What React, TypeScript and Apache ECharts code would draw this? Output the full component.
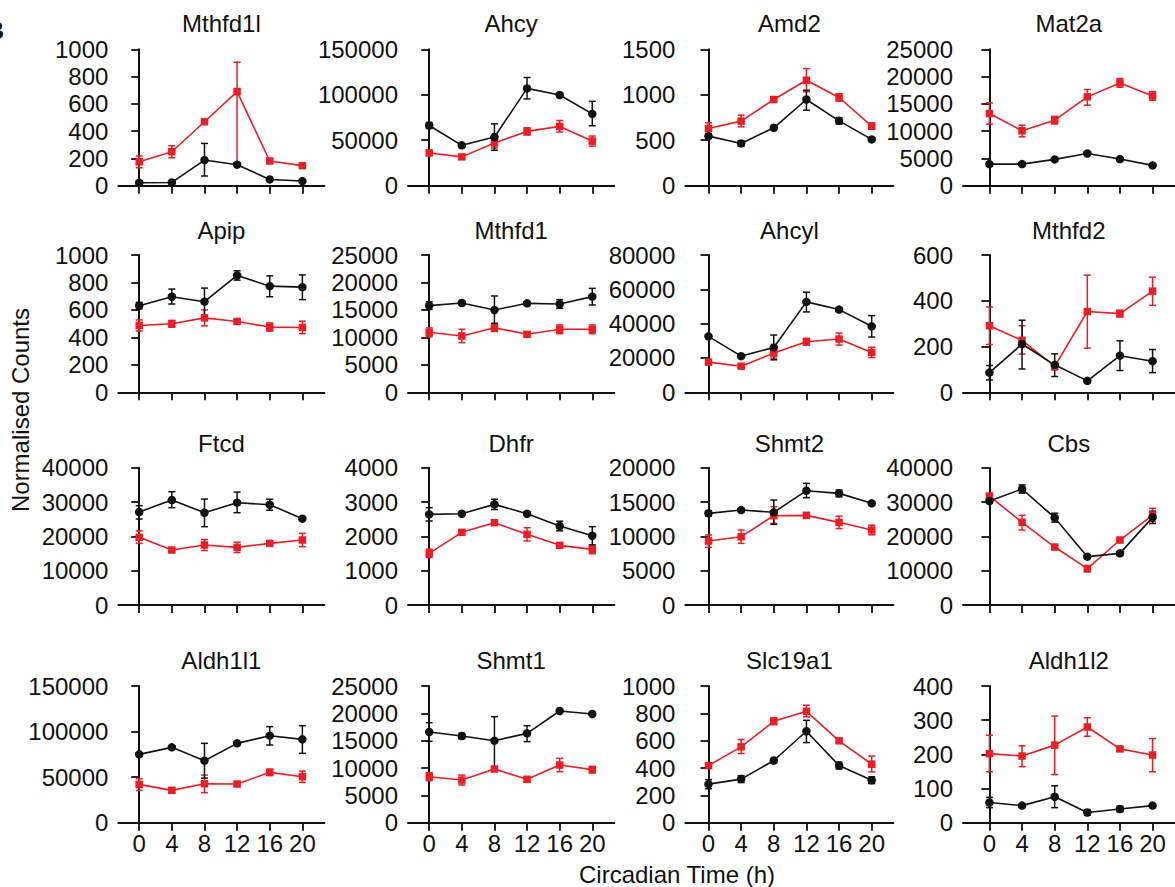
import React, { useEffect, useRef } from "react";
import * as echarts from "echarts";

// ---------------- data ----------------
const HOURS = [0, 4, 8, 12, 16, 20];
const X_TICKS = [0, 4, 8, 12, 16, 20];

const GENES = [
  "Mthfd1l", "Ahcy", "Amd2", "Mat2a",
  "Apip", "Mthfd1", "Ahcyl", "Mthfd2",
  "Ftcd", "Dhfr", "Shmt2", "Cbs",
  "Aldh1l1", "Shmt1", "Slc19a1", "Aldh1l2",
];
const Y_MAX = [1000, 150000, 1500, 25000, 1000, 25000, 80000, 600, 40000, 4000, 20000, 40000, 150000, 25000, 1000, 400];
const Y_STEP = [200, 50000, 500, 5000, 200, 5000, 20000, 200, 10000, 1000, 5000, 10000, 50000, 5000, 200, 100];

// each point: [mean, errLow, errHigh]
const MTHFD1L_BLACK = [[22, 14, 30], [24, 16, 32], [188, 71, 310], [154, 146, 162], [46, 40, 52], [34, 30, 38]];
const MTHFD1L_RED = [[176, 132, 218], [249, 205, 293], [469, 459, 479], [690, 169, 905], [181, 169, 193], [147, 140, 154]];
const AHCY_BLACK = [[66260, 63000, 69500], [44400, 43000, 45800], [53500, 39000, 68000], [107000, 95400, 119000], [99750, 98000, 101500], [79000, 65900, 92800]];
const AHCY_RED = [[36000, 33500, 38500], [31700, 29200, 34200], [47000, 41500, 52400], [59700, 55700, 63700], [65200, 59000, 71700], [49100, 43600, 54600]];
const AMD2_BLACK = [[545, 520, 570], [465, 435, 495], [637, 627, 647], [948, 830, 1050], [713, 678, 748], [509, 494, 524]];
const AMD2_RED = [[629, 574, 692], [710, 648, 776], [948, 928, 968], [1160, 1032, 1288], [970, 930, 1010], [655, 620, 690]];
const MAT2A_BLACK = [[3960, 3660, 4260], [3960, 3800, 4120], [4820, 4650, 4990], [5910, 5750, 6070], [4880, 4720, 5040], [3720, 3560, 3880]];
const MAT2A_RED = [[13230, 11280, 15180], [10060, 8960, 11100], [12010, 11310, 12710], [16280, 14760, 17620], [18840, 18040, 19640], [16460, 15660, 17260]];
const APIP_BLACK = [[631, 607, 655], [696, 643, 752], [660, 559, 759], [851, 817, 885], [773, 696, 848], [766, 675, 855]];
const APIP_RED = [[487, 447, 527], [499, 474, 524], [542, 484, 600], [516, 501, 531], [475, 445, 505], [472, 427, 518]];
const MTHFD1_BLACK = [[15780, 15080, 16480], [16260, 15960, 16560], [14990, 12560, 17540], [16200, 15900, 16500], [16080, 15280, 16880], [17420, 15900, 18930]];
const MTHFD1_RED = [[10920, 10120, 11720], [10250, 9040, 11470], [11770, 11070, 12470], [10560, 10160, 10960], [11470, 10670, 12270], [11470, 10670, 12270]];
const AHCYL_BLACK = [[32590, 31590, 33590], [21070, 20470, 21670], [26150, 18930, 33370], [52680, 46830, 58340], [48190, 47390, 48990], [38440, 32200, 44680]];
const AHCYL_RED = [[17560, 16960, 18160], [15220, 14620, 15820], [22830, 19900, 25760], [29460, 27460, 31460], [31020, 27510, 34540], [23220, 20220, 26220]];
const MTHFD2_BLACK = [[86, 54, 117], [211, 102, 315], [120, 69, 168], [50, 44, 56], [160, 95, 225], [136, 86, 187]];
const MTHFD2_RED = [[291, 209, 373], [227, 167, 291], [113, 98, 128], [353, 193, 512], [344, 329, 359], [442, 380, 503]];
const FTCD_BLACK = [[27090, 25050, 28930], [30580, 28350, 33010], [26890, 22820, 30870], [29810, 26890, 32910], [29220, 27620, 30820], [25150, 24750, 25550]];
const FTCD_RED = [[19710, 17960, 21550], [16020, 15520, 16520], [17480, 15880, 19080], [16800, 15300, 18300], [17960, 17360, 18560], [18930, 16990, 20870]];
const DHFR_BLACK = [[2641, 2447, 2835], [2660, 2610, 2710], [2932, 2782, 3082], [2660, 2610, 2710], [2301, 2161, 2441], [2019, 1748, 2282]];
const DHFR_RED = [[1505, 1385, 1625], [2117, 2057, 2177], [2398, 2338, 2458], [2058, 1864, 2252], [1738, 1678, 1798], [1621, 1491, 1751]];
const SHMT2_BLACK = [[13350, 12950, 13750], [13830, 13630, 14030], [13500, 11750, 15290], [16650, 15630, 17720], [16260, 15760, 16760], [14810, 14610, 15010]];
const SHMT2_RED = [[9320, 8400, 10190], [9950, 8980, 10920], [13010, 11890, 14320], [13060, 12660, 13460], [12040, 11140, 12940], [10920, 10220, 11620]];
const CBS_BLACK = [[30290, 29790, 30790], [33790, 32590, 34990], [25440, 24140, 26740], [14080, 13680, 14480], [15050, 14650, 15450], [25530, 23730, 27330]];
const CBS_RED = [[31750, 31250, 32250], [24080, 21840, 26120], [16890, 16390, 17390], [10580, 9680, 11480], [18930, 18530, 19330], [26210, 24270, 28160]];
const ALDH1L1_BLACK = [[75000, 73500, 76500], [82680, 81200, 84200], [68050, 49000, 87070], [87070, 85600, 88600], [95490, 85240, 105370], [91460, 76100, 106460]];
const ALDH1L1_RED = [[42070, 35490, 48290], [35490, 32490, 38490], [42800, 32930, 52300], [42440, 40440, 44440], [55240, 51740, 58740], [50490, 44270, 56700]];
const SHMT1_BLACK = [[16590, 14880, 18290], [15850, 15350, 16350], [15000, 10240, 19390], [16340, 14820, 17740], [20430, 20230, 20630], [19880, 19680, 20080]];
const SHMT1_RED = [[8410, 7700, 9120], [7800, 6900, 8700], [9820, 9520, 10120], [7930, 7430, 8430], [10550, 9330, 11770], [9700, 9100, 10300]];
const SLC19A1_BLACK = [[282, 249, 315], [319, 294, 344], [455, 445, 465], [669, 586, 749], [418, 393, 443], [311, 286, 336]];
const SLC19A1_RED = [[418, 398, 438], [555, 506, 608], [742, 717, 767], [815, 774, 859], [599, 584, 614], [428, 372, 487]];
const ALDH1L2_BLACK = [[59, 44, 74], [50, 45, 55], [76, 44, 108], [30, 22, 38], [40, 32, 48], [50, 46, 54]];
const ALDH1L2_RED = [[202, 149, 256], [195, 164, 225], [227, 141, 312], [280, 253, 307], [216, 211, 221], [198, 149, 246]];

const BLACK_SERIES = [
  MTHFD1L_BLACK, AHCY_BLACK, AMD2_BLACK, MAT2A_BLACK,
  APIP_BLACK, MTHFD1_BLACK, AHCYL_BLACK, MTHFD2_BLACK,
  FTCD_BLACK, DHFR_BLACK, SHMT2_BLACK, CBS_BLACK,
  ALDH1L1_BLACK, SHMT1_BLACK, SLC19A1_BLACK, ALDH1L2_BLACK,
];
const RED_SERIES = [
  MTHFD1L_RED, AHCY_RED, AMD2_RED, MAT2A_RED,
  APIP_RED, MTHFD1_RED, AHCYL_RED, MTHFD2_RED,
  FTCD_RED, DHFR_RED, SHMT2_RED, CBS_RED,
  ALDH1L1_RED, SHMT1_RED, SLC19A1_RED, ALDH1L2_RED,
];

// ---------------- layout ----------------
const COL_LEFT = [118.4, 408, 685.4, 963];
const COL_WIDTH = [206, 206.3, 208, 211.6];
const COL_XMIN = [-2.55, -2.6, -2.83, -3.24];
const COL_XMAX = [22.7, 22.7, 22.66, 22.7];
const ROW_TOP = [49.3, 255, 467.7, 686];
const ROW_BOTTOM = [185.7, 392.3, 605, 822.7];
const TITLE_Y = [23, 230.7, 443, 660];

const FONT = "'Liberation Sans', Arial, Helvetica, sans-serif";
const INK = "#111111";
const RED = "#ee1c24";

function errRenderer(color: string) {
  return (_params: any, api: any) => {
    const x = api.value(0);
    const top = api.coord([x, api.value(2)]);
    const bot = api.coord([x, api.value(1)]);
    const w = 3.5;
    const style = { stroke: color, lineWidth: 1.5 };
    return {
      type: "group",
      children: [
        { type: "line", shape: { x1: top[0], y1: top[1], x2: bot[0], y2: bot[1] }, style },
        { type: "line", shape: { x1: top[0] - w, y1: top[1], x2: top[0] + w, y2: top[1] }, style },
        { type: "line", shape: { x1: bot[0] - w, y1: bot[1], x2: bot[0] + w, y2: bot[1] }, style },
      ],
    };
  };
}

function buildOption() {
  const grid: any[] = [];
  const xAxis: any[] = [];
  const yAxis: any[] = [];
  const series: any[] = [];
  const graphic: any[] = [];

  GENES.forEach((gene, i) => {
    const r = Math.floor(i / 4);
    const c = i % 4;
    const top = ROW_TOP[r];
    const height = ROW_BOTTOM[r] - ROW_TOP[r];
    grid.push({ left: COL_LEFT[c], top, width: COL_WIDTH[c], height, containLabel: false });
    xAxis.push({
      type: "value",
      gridIndex: i,
      min: COL_XMIN[c],
      max: COL_XMAX[c],
      axisLine: { show: true, onZero: false, lineStyle: { color: INK, width: 2 } },
      axisTick: { show: true, length: 8, lineStyle: { color: INK, width: 1.8 }, customValues: X_TICKS },
      axisLabel: {
        show: r === 3,
        customValues: X_TICKS,
        formatter: (v: number) => String(v),
        color: INK,
        fontSize: 24,
        fontFamily: FONT,
        margin: 9,
      },
      splitLine: { show: false },
    });
    yAxis.push({
      type: "value",
      gridIndex: i,
      min: 0,
      max: Y_MAX[i],
      interval: Y_STEP[i],
      axisLine: { show: true, lineStyle: { color: INK, width: 2 } },
      axisTick: { show: true, length: 8, lineStyle: { color: INK, width: 1.8 } },
      axisLabel: {
        color: INK,
        fontSize: 24,
        fontFamily: FONT,
        margin: 10,
        formatter: (v: number) => String(v),
      },
      splitLine: { show: false },
    });

    const black = BLACK_SERIES[i];
    const red = RED_SERIES[i];
    series.push({
      type: "custom",
      xAxisIndex: i,
      yAxisIndex: i,
      renderItem: errRenderer(RED),
      encode: { x: 0, y: [1, 2] },
      data: HOURS.map((h, k) => [h, red[k][1], red[k][2]]),
      clip: false,
      silent: true,
      z: 2,
    });
    series.push({
      type: "custom",
      xAxisIndex: i,
      yAxisIndex: i,
      renderItem: errRenderer(INK),
      encode: { x: 0, y: [1, 2] },
      data: HOURS.map((h, k) => [h, black[k][1], black[k][2]]),
      clip: false,
      silent: true,
      z: 2,
    });
    series.push({
      type: "line",
      xAxisIndex: i,
      yAxisIndex: i,
      data: HOURS.map((h, k) => [h, red[k][0]]),
      symbol: "rect",
      symbolSize: 7.5,
      showSymbol: true,
      lineStyle: { color: RED, width: 1.6 },
      itemStyle: { color: RED },
      silent: true,
      z: 3,
    });
    series.push({
      type: "line",
      xAxisIndex: i,
      yAxisIndex: i,
      data: HOURS.map((h, k) => [h, black[k][0]]),
      symbol: "circle",
      symbolSize: 8.5,
      showSymbol: true,
      lineStyle: { color: INK, width: 1.6 },
      itemStyle: { color: INK },
      silent: true,
      z: 4,
    });

    graphic.push({
      type: "text",
      x: COL_LEFT[c] + COL_WIDTH[c] / 2,
      y: TITLE_Y[r],
      style: {
        text: gene,
        fill: INK,
        font: `24px ${FONT}`,
        align: "center",
        verticalAlign: "middle",
        textAlign: "center",
        textVerticalAlign: "middle",
      },
    });
  });

  graphic.push({
    type: "text",
    x: 20,
    y: 410,
    rotation: Math.PI / 2,
    style: {
      text: "Normalised Counts",
      fill: INK,
      font: `24px ${FONT}`,
      align: "center",
      verticalAlign: "middle",
      textAlign: "center",
      textVerticalAlign: "middle",
    },
  });
  graphic.push({
    type: "text",
    x: 677,
    y: 874,
    style: {
      text: "Circadian Time (h)",
      fill: INK,
      font: `24px ${FONT}`,
      align: "center",
      verticalAlign: "middle",
      textAlign: "center",
      textVerticalAlign: "middle",
    },
  });
  graphic.push({
    type: "text",
    x: 4,
    y: 30,
    style: {
      text: "B",
      fill: INK,
      font: `bold 24px ${FONT}`,
      align: "right",
      verticalAlign: "middle",
      textAlign: "right",
      textVerticalAlign: "middle",
    },
  });

  return {
    animation: false,
    backgroundColor: "#ffffff",
    grid,
    xAxis,
    yAxis,
    series,
    graphic,
  };
}

export default function App() {
  const ref = useRef<HTMLDivElement>(null);
  useEffect(() => {
    if (!ref.current) return;
    const chart = echarts.init(ref.current, undefined, { renderer: "svg" });
    chart.setOption(buildOption() as any);
    return () => chart.dispose();
  }, []);
  return (
    <div
      ref={ref}
      style={{ position: "fixed", left: 0, top: 0, width: 1175, height: 887, background: "#fff" }}
    />
  );
}
